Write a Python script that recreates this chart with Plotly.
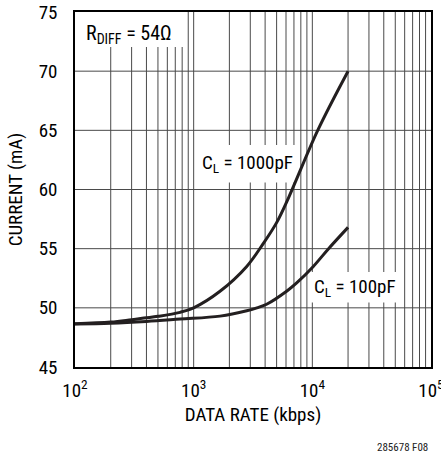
import plotly.graph_objects as go

# Data
rate_1000pF = [100, 200, 300, 500, 767, 1000, 1667, 2800, 3840, 5000, 6300, 11100, 20000]
current_1000pF = [48.65, 48.8, 49.0, 49.28, 49.62, 50.0, 51.4, 53.5, 55.4, 57.2, 59.3, 65.0, 70.0]

rate_100pF = [100, 200, 400, 767, 1667, 2800, 3410, 4120, 6070, 7380, 10190, 13700, 20000]
current_100pF = [48.63, 48.7, 48.85, 49.05, 49.3, 49.75, 50.0, 50.3, 51.4, 52.1, 53.5, 55.0, 56.8]

x_tickvals = [100, 1000, 10000, 100000]
x_ticktext = ["10<sup>2</sup>", "10<sup>3</sup>", "10<sup>4</sup>", "10<sup>5</sup>"]
y_tickvals = [45, 50, 55, 60, 65, 70, 75]

FONT = "Roboto Condensed, Liberation Sans Narrow, Arial Narrow, sans-serif"
FS = 19
LINE = "#231f20"
GRID = "#4a4a4a"

fig = go.Figure()

# minor vertical gridlines (2..9 per decade) + decade lines
minor = [m * 10 ** e for e in (2, 3, 4) for m in range(2, 10)]
for v in minor + [1000, 10000]:
    fig.add_shape(type="line", xref="x", yref="paper", x0=v, x1=v, y0=0, y1=1,
                  line=dict(color=GRID, width=1), layer="below")
for v in [50, 55, 60, 65, 70]:
    fig.add_shape(type="line", xref="paper", yref="y", x0=0, x1=1, y0=v, y1=v,
                  line=dict(color=GRID, width=1), layer="below")

# white label boxes (cover grid)
fig.add_shape(type="rect", xref="x", yref="y", x0=100, x1=825, y0=72.05, y1=75,
              fillcolor="white", line=dict(width=0), layer="below")
fig.add_shape(type="rect", xref="x", yref="y", x0=1050, x1=7400, y0=60.6, y1=63.77,
              fillcolor="white", line=dict(width=0), layer="below")
fig.add_shape(type="rect", xref="x", yref="y", x0=9500, x1=56000, y0=50.45, y1=53.03,
              fillcolor="white", line=dict(width=0), layer="below")

fig.add_trace(go.Scatter(x=rate_1000pF, y=current_1000pF, mode="lines",
                         line=dict(color=LINE, width=3, shape="spline", smoothing=1.0),
                         showlegend=False))
fig.add_trace(go.Scatter(x=rate_100pF, y=current_100pF, mode="lines",
                         line=dict(color=LINE, width=3, shape="spline", smoothing=1.0),
                         showlegend=False))

fig.add_annotation(x=0.152, y=0.938, xref="paper", yref="paper", xanchor="center", yanchor="middle",
                   text="R<sub>DIFF</sub> = 54Ω", showarrow=False,
                   font=dict(family=FONT, size=20, color="black"))
fig.add_annotation(x=3.453, y=62.2, xref="x", yref="y", xanchor="center", yanchor="middle",
                   text="C<sub>L</sub> = 1000pF", showarrow=False,
                   font=dict(family=FONT, size=FS, color="black"))
fig.add_annotation(x=4.359, y=51.75, xref="x", yref="y", xanchor="center", yanchor="middle",
                   text="C<sub>L</sub> = 100pF", showarrow=False,
                   font=dict(family=FONT, size=FS, color="black"))
fig.add_annotation(x=0.997, y=-0.228, xref="paper", yref="paper", xanchor="right", yanchor="middle",
                   text="285678 F08", showarrow=False,
                   font=dict(family=FONT, size=11, color="#222"))

fig.update_xaxes(type="log", range=[2, 5], tickvals=x_tickvals, ticktext=x_ticktext,
                 showgrid=False, zeroline=False, showline=True, mirror=True, automargin=False,
                 linecolor="black", linewidth=1.5, ticks="", ticklabelstandoff=5,
                 ticklabeloverflow="allow",
                 tickfont=dict(family=FONT, size=FS, color="black"),
                 title=dict(text="DATA RATE (kbps)", standoff=7,
                            font=dict(family=FONT, size=FS, color="black")))
fig.update_yaxes(range=[45, 75], tickvals=y_tickvals,
                 showgrid=False, zeroline=False, showline=True, mirror=True, automargin=False,
                 linecolor="black", linewidth=1.5, ticks="", ticklabelstandoff=12,
                 ticklabeloverflow="allow",
                 tickfont=dict(family=FONT, size=FS, color="black"),
                 title=dict(text="CURRENT (mA)", standoff=11,
                            font=dict(family=FONT, size=FS, color="black")))

fig.update_layout(width=441, height=453, margin=dict(l=75, r=10, t=12, b=86),
                  plot_bgcolor="white", paper_bgcolor="white")

fig.write_html("out.html")
